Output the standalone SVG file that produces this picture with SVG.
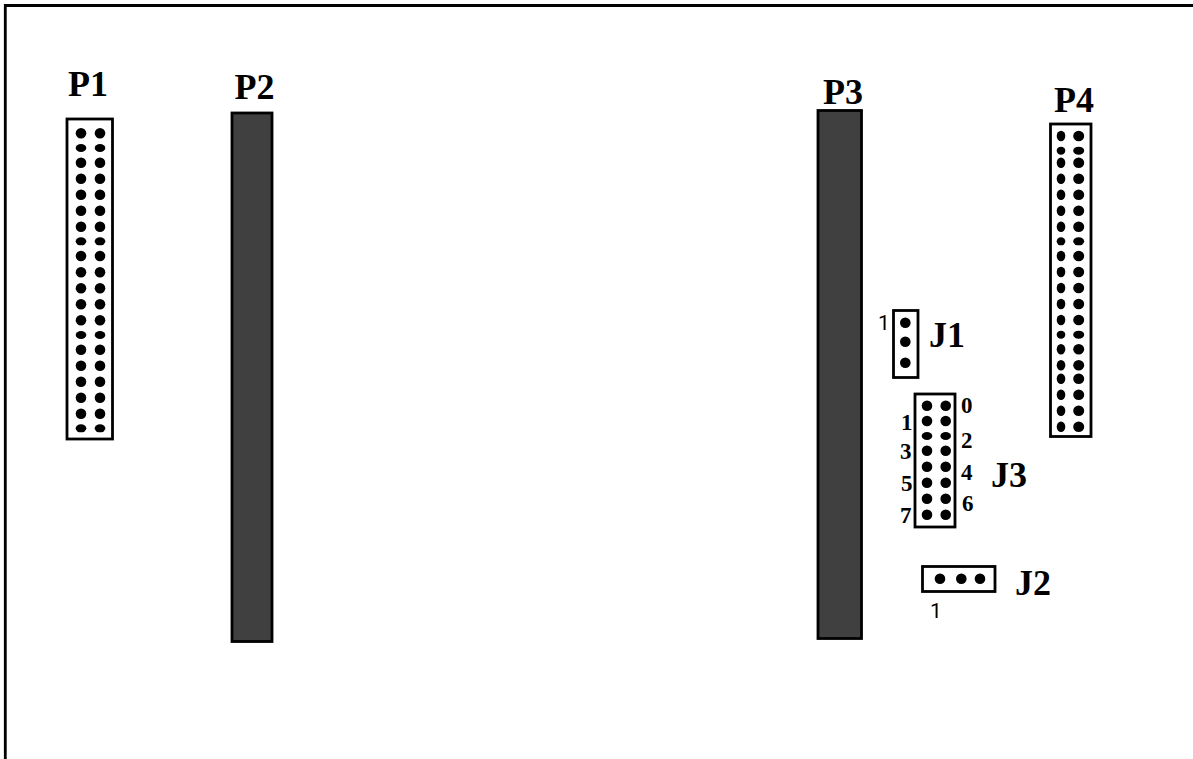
<svg xmlns="http://www.w3.org/2000/svg" width="1193" height="759" viewBox="0 0 1193 759">
<style>
.box{fill:#fff;stroke:#000;stroke-width:2.8}
.bar{fill:#404040;stroke:#000;stroke-width:2.8}
.lbl{font-family:"Liberation Serif",serif;font-weight:bold;font-size:36px;fill:#000}
.pin{font-family:"Liberation Serif",serif;font-weight:bold;font-size:23px;fill:#000}
.one{font-family:"Roboto",sans-serif;font-size:21px;fill:#000}
ellipse{fill:#000;rx:5.3px;ry:5.3px}
ellipse.s{ry:4px}
ellipse.n{rx:4.3px}
ellipse.w{rx:5.5px}
</style>
<rect width="1193" height="759" fill="#fff"/>
<path d="M5.300 759V5.500H1193" fill="none" stroke="#000" stroke-width="2.8"/>
<g id="P1">
<rect class="box" x="67" y="119" width="45.500" height="320"/>
<text class="lbl" x="68" y="96">P1</text>
<g id="P1-pins">
<ellipse cx="81" cy="133.300"/><ellipse cx="100" cy="133.300"/>
<ellipse class="s" cx="81" cy="148"/><ellipse class="s" cx="100" cy="148"/>
<ellipse cx="81" cy="162.700"/><ellipse cx="100" cy="162.700"/>
<ellipse cx="81" cy="178.700"/><ellipse cx="100" cy="178.700"/>
<ellipse cx="81" cy="194.700"/><ellipse cx="100" cy="194.700"/>
<ellipse cx="81" cy="210.700"/><ellipse cx="100" cy="210.700"/>
<ellipse cx="81" cy="226.700"/><ellipse cx="100" cy="226.700"/>
<ellipse class="s" cx="81" cy="241.300"/><ellipse class="s" cx="100" cy="241.300"/>
<ellipse cx="81" cy="256"/><ellipse cx="100" cy="256"/>
<ellipse cx="81" cy="272.300"/><ellipse cx="100" cy="272.300"/>
<ellipse cx="81" cy="288.300"/><ellipse cx="100" cy="288.300"/>
<ellipse cx="81" cy="304.300"/><ellipse cx="100" cy="304.300"/>
<ellipse cx="81" cy="320.300"/><ellipse cx="100" cy="320.300"/>
<ellipse class="s" cx="81" cy="335"/><ellipse class="s" cx="100" cy="335"/>
<ellipse cx="81" cy="349.700"/><ellipse cx="100" cy="349.700"/>
<ellipse cx="81" cy="365.700"/><ellipse cx="100" cy="365.700"/>
<ellipse cx="81" cy="381.700"/><ellipse cx="100" cy="381.700"/>
<ellipse cx="81" cy="397.700"/><ellipse cx="100" cy="397.700"/>
<ellipse cx="81" cy="413.700"/><ellipse cx="100" cy="413.700"/>
<ellipse class="s" cx="81" cy="428.300"/><ellipse class="s" cx="100" cy="428.300"/>
</g>
</g>
<g id="P2">
<rect class="bar" x="232" y="113" width="40" height="528.500"/>
<text class="lbl" x="234.500" y="99">P2</text>
</g>
<g id="P3">
<rect class="bar" x="818" y="110.500" width="43.500" height="528"/>
<text class="lbl" x="823" y="104">P3</text>
</g>
<g id="P4">
<rect class="box" x="1050.500" y="124" width="40.500" height="312.500"/>
<text class="lbl" x="1054" y="112">P4</text>
<g id="P4-pins">
<ellipse class="n" cx="1061" cy="136"/><ellipse class="w" cx="1078.700" cy="136"/>
<ellipse class="n s" cx="1061" cy="150.700"/><ellipse class="w s" cx="1078.700" cy="150.700"/>
<ellipse class="n" cx="1061" cy="162.700"/><ellipse class="w" cx="1078.700" cy="162.700"/>
<ellipse class="n" cx="1061" cy="178.700"/><ellipse class="w" cx="1078.700" cy="178.700"/>
<ellipse class="n" cx="1061" cy="194.700"/><ellipse class="w" cx="1078.700" cy="194.700"/>
<ellipse class="n" cx="1061" cy="210.700"/><ellipse class="w" cx="1078.700" cy="210.700"/>
<ellipse class="n" cx="1061" cy="226.700"/><ellipse class="w" cx="1078.700" cy="226.700"/>
<ellipse class="n s" cx="1061" cy="241.300"/><ellipse class="w s" cx="1078.700" cy="241.300"/>
<ellipse class="n" cx="1061" cy="256"/><ellipse class="w" cx="1078.700" cy="256"/>
<ellipse class="n" cx="1061" cy="272"/><ellipse class="w" cx="1078.700" cy="272"/>
<ellipse class="n" cx="1061" cy="288"/><ellipse class="w" cx="1078.700" cy="288"/>
<ellipse class="n" cx="1061" cy="304"/><ellipse class="w" cx="1078.700" cy="304"/>
<ellipse class="n" cx="1061" cy="320"/><ellipse class="w" cx="1078.700" cy="320"/>
<ellipse class="n s" cx="1061" cy="334.700"/><ellipse class="w s" cx="1078.700" cy="334.700"/>
<ellipse class="n" cx="1061" cy="349.300"/><ellipse class="w" cx="1078.700" cy="349.300"/>
<ellipse class="n" cx="1061" cy="365.300"/><ellipse class="w" cx="1078.700" cy="365.300"/>
<ellipse class="n" cx="1061" cy="378.700"/><ellipse class="w" cx="1078.700" cy="378.700"/>
<ellipse class="n" cx="1061" cy="394.700"/><ellipse class="w" cx="1078.700" cy="394.700"/>
<ellipse class="n" cx="1061" cy="410.700"/><ellipse class="w" cx="1078.700" cy="410.700"/>
<ellipse class="n" cx="1061" cy="426.700"/><ellipse class="w" cx="1078.700" cy="426.700"/>
</g>
</g>
<g id="J1">
<rect class="box" x="893.500" y="310.500" width="24.500" height="67"/>
<ellipse cx="905.300" cy="322.700"/>
<ellipse cx="905.300" cy="341.700"/>
<ellipse cx="905.300" cy="362.700"/>
<text class="lbl" x="929" y="347">J1</text>
<text class="one" x="878" y="330">1</text>
</g>
<g id="J3">
<rect class="box" x="915" y="394" width="40" height="133"/>
<ellipse cx="927" cy="405.700"/><ellipse cx="945.700" cy="405.700"/>
<ellipse cx="927" cy="421"/><ellipse cx="945.700" cy="421"/>
<ellipse class="s" cx="927" cy="436"/><ellipse class="s" cx="945.700" cy="436"/>
<ellipse cx="927" cy="450.700"/><ellipse cx="945.700" cy="450.700"/>
<ellipse cx="927" cy="466.700"/><ellipse cx="945.700" cy="466.700"/>
<ellipse cx="927" cy="482.700"/><ellipse cx="945.700" cy="482.700"/>
<ellipse cx="927" cy="498.700"/><ellipse cx="945.700" cy="498.700"/>
<ellipse cx="927" cy="514.700"/><ellipse cx="945.700" cy="514.700"/>
<text class="lbl" x="991" y="487">J3</text>
<text class="pin" x="961" y="413">0</text>
<text class="pin" x="901" y="430">1</text>
<text class="pin" x="961" y="448">2</text>
<text class="pin" x="900" y="459">3</text>
<text class="pin" x="961" y="480">4</text>
<text class="pin" x="901" y="491">5</text>
<text class="pin" x="962" y="511">6</text>
<text class="pin" x="900" y="523">7</text>
</g>
<g id="J2">
<rect class="box" x="922.500" y="566.500" width="72.500" height="25"/>
<ellipse cx="940" cy="578.700"/>
<ellipse cx="961.300" cy="578.700"/>
<ellipse cx="980" cy="578.700"/>
<text class="lbl" x="1015" y="595">J2</text>
<text class="one" x="930" y="618">1</text>
</g>
<g id="connectors"/>
</svg>
